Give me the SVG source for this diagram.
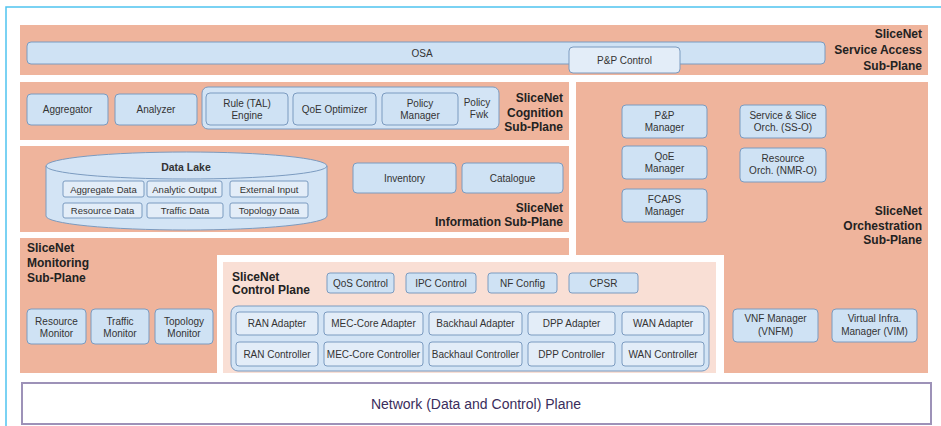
<svg xmlns="http://www.w3.org/2000/svg" width="941" height="426" viewBox="0 0 941 426">
<style>
.plane{fill:#EFB49C;stroke:none}
.box{fill:#CFE2F4;stroke:#7B9BC0;stroke-width:1}
.lbox{fill:#E3EDF8;stroke:#7B9BC0;stroke-width:1}
.grp{fill:#D3E4F5;stroke:#7B9BC0;stroke-width:1}
.t{font-family:"Liberation Sans",Arial,sans-serif;font-size:10px;fill:#333;text-anchor:middle}
.ts{font-family:"Liberation Sans",Arial,sans-serif;font-size:9.5px;fill:#333;text-anchor:middle}
.h{font-family:"Liberation Sans",Arial,sans-serif;font-size:12px;font-weight:bold;fill:#222}
.hr{text-anchor:end}
</style>
<rect x="0" y="0" width="941" height="426" fill="#FFFFFF"/>
<rect x="6" y="7" width="945" height="430" fill="none" stroke="#4FC3EF" stroke-width="1.5"/>

<g id="service-access">
<rect class="plane" x="20" y="25" width="908" height="50"/>
<rect class="box" x="27" y="42" width="798" height="22" rx="4"/>
<text class="t" x="422" y="56.5">OSA</text>
<g id="pp-control">
<rect class="lbox" x="569" y="47" width="111" height="26" rx="4"/>
<text class="t" x="624.5" y="63.5">P&amp;P Control</text>
</g>
<text class="h hr" x="922" y="38">SliceNet</text>
<text class="h hr" x="922" y="54">Service Access</text>
<text class="h hr" x="922" y="70">Sub-Plane</text>
</g>

<g id="cognition">
<rect class="plane" x="20" y="82" width="549" height="58"/>
<g id="aggregator"><rect class="box" x="27" y="94" width="81" height="31" rx="4"/><text class="t" x="67.5" y="113">Aggregator</text></g>
<g id="analyzer"><rect class="box" x="115" y="94" width="82" height="31" rx="4"/><text class="t" x="156" y="113">Analyzer</text></g>
<g id="policy-fwk">
<rect class="grp" x="202" y="87" width="297" height="42" rx="6"/>
<text class="t" x="477" y="106">Policy</text>
<text class="t" x="479" y="118">Fwk</text>
</g>
<g id="rule-engine"><rect class="box" x="206" y="93" width="82" height="32" rx="4"/><text class="t" x="247" y="106.5">Rule (TAL)</text><text class="t" x="247" y="118.5">Engine</text></g>
<g id="qoe-optimizer"><rect class="box" x="293" y="93" width="83" height="32" rx="4"/><text class="t" x="334.5" y="112.5">QoE Optimizer</text></g>
<g id="policy-manager"><rect class="box" x="382" y="93" width="76" height="32" rx="4"/><text class="t" x="420" y="106.5">Policy</text><text class="t" x="420" y="118.5">Manager</text></g>
<text class="h hr" x="563" y="102">SliceNet</text>
<text class="h hr" x="563" y="116.5">Cognition</text>
<text class="h hr" x="563" y="131">Sub-Plane</text>
</g>

<g id="orchestration">
<rect class="plane" x="576" y="82" width="352" height="291"/>
<g id="pp-manager"><rect class="box" x="622" y="105" width="85" height="33" rx="4"/><text class="t" x="664.5" y="119">P&amp;P</text><text class="t" x="664.5" y="131">Manager</text></g>
<g id="ss-o"><rect class="box" x="740" y="105" width="86" height="33" rx="4"/><text class="t" x="783" y="119">Service &amp; Slice</text><text class="t" x="783" y="131">Orch. (SS-O)</text></g>
<g id="qoe-manager"><rect class="box" x="622" y="146" width="85" height="33" rx="4"/><text class="t" x="664.5" y="159.5">QoE</text><text class="t" x="664.5" y="171.5">Manager</text></g>
<g id="nmr-o"><rect class="box" x="740" y="148" width="86" height="34" rx="4"/><text class="t" x="783" y="161.5">Resource</text><text class="t" x="783" y="174">Orch. (NMR-O)</text></g>
<g id="fcaps-manager"><rect class="box" x="622" y="189" width="85" height="33" rx="4"/><text class="t" x="664.5" y="202.5">FCAPS</text><text class="t" x="664.5" y="214.5">Manager</text></g>
<g id="vnfm"><rect class="box" x="733" y="309" width="85" height="33" rx="4"/><text class="t" x="775.5" y="322">VNF Manager</text><text class="t" x="775.5" y="335">(VNFM)</text></g>
<g id="vim"><rect class="box" x="832" y="309" width="85" height="33" rx="4"/><text class="t" x="874.5" y="322">Virtual Infra.</text><text class="t" x="874.5" y="335">Manager (VIM)</text></g>
<text class="h hr" x="922" y="215">SliceNet</text>
<text class="h hr" x="922" y="229.5">Orchestration</text>
<text class="h hr" x="922" y="244">Sub-Plane</text>
</g>

<g id="information">
<rect class="plane" x="20" y="146" width="549" height="86"/>
<g id="data-lake">
<path d="M46,166 L46,216 A140.5,14 0 0 0 327,216 L327,166 A140.5,14 0 0 0 46,166 Z" fill="#D3E4F5" stroke="#7B9BC0" stroke-width="1"/>
<path d="M46,166 A140.5,13 0 0 0 327,166" fill="none" stroke="#7B9BC0" stroke-width="1"/>
<text class="t" x="186" y="171" style="font-weight:bold;font-size:10.5px">Data Lake</text>
<rect class="lbox" x="63" y="181" width="81" height="16" rx="2"/><text class="ts" x="103.5" y="192.5">Aggregate Data</text>
<rect class="lbox" x="147" y="181" width="75" height="16" rx="2"/><text class="ts" x="184.5" y="192.5">Analytic Output</text>
<rect class="lbox" x="230" y="181" width="78" height="16" rx="2"/><text class="ts" x="269" y="192.5">External Input</text>
<rect class="lbox" x="63" y="203" width="79" height="15" rx="2"/><text class="ts" x="102.5" y="214">Resource Data</text>
<rect class="lbox" x="147" y="203" width="76" height="15" rx="2"/><text class="ts" x="185" y="214">Traffic Data</text>
<rect class="lbox" x="230" y="203" width="78" height="15" rx="2"/><text class="ts" x="269" y="214">Topology Data</text>
</g>
<g id="inventory"><rect class="box" x="353" y="163" width="103" height="30" rx="4"/><text class="t" x="404.5" y="181.5">Inventory</text></g>
<g id="catalogue"><rect class="box" x="462" y="163" width="101" height="30" rx="4"/><text class="t" x="512.5" y="181.5">Catalogue</text></g>
<text class="h hr" x="563" y="211.5">SliceNet</text>
<text class="h hr" x="563" y="226">Information Sub-Plane</text>
</g>

<g id="monitoring">
<rect class="plane" x="20" y="238" width="549" height="135"/>
<text class="h" x="27" y="251.5">SliceNet</text>
<text class="h" x="27" y="267">Monitoring</text>
<text class="h" x="27" y="282">Sub-Plane</text>
<g id="resource-monitor"><rect class="box" x="27" y="309" width="59" height="35" rx="4"/><text class="t" x="56.5" y="324.5">Resource</text><text class="t" x="56.5" y="336.5">Monitor</text></g>
<g id="traffic-monitor"><rect class="box" x="91" y="309" width="58" height="35" rx="4"/><text class="t" x="120" y="324.5">Traffic</text><text class="t" x="120" y="336.5">Monitor</text></g>
<g id="topology-monitor"><rect class="box" x="155" y="309" width="58" height="35" rx="4"/><text class="t" x="184" y="324.5">Topology</text><text class="t" x="184" y="336.5">Monitor</text></g>
</g>

<g id="control-plane">
<rect x="217" y="255" width="507" height="118" fill="#FFFFFF"/>
<rect x="223" y="262" width="493" height="111" fill="#F9DFD5"/>
<text class="h" x="232" y="281">SliceNet</text>
<text class="h" x="232" y="294">Control Plane</text>
<g id="qos-control"><rect class="box" x="327" y="273" width="67" height="20" rx="3"/><text class="t" x="360.5" y="286.5">QoS Control</text></g>
<g id="ipc-control"><rect class="box" x="406" y="273" width="70" height="20" rx="3"/><text class="t" x="441" y="286.5">IPC Control</text></g>
<g id="nf-config"><rect class="box" x="488" y="273" width="69" height="20" rx="3"/><text class="t" x="522.5" y="286.5">NF Config</text></g>
<g id="cpsr"><rect class="box" x="569" y="273" width="69" height="20" rx="3"/><text class="t" x="603.5" y="286.5">CPSR</text></g>
<rect class="grp" x="231" y="306" width="478" height="65" rx="7"/>
<g id="ran-adapter"><rect class="lbox" x="236" y="312" width="82" height="23" rx="3"/><text class="t" x="277" y="327">RAN Adapter</text></g>
<g id="mec-adapter"><rect class="lbox" x="324" y="312" width="99" height="23" rx="3"/><text class="t" x="373.5" y="327">MEC-Core Adapter</text></g>
<g id="backhaul-adapter"><rect class="lbox" x="429" y="312" width="93" height="23" rx="3"/><text class="t" x="475.5" y="327">Backhaul Adapter</text></g>
<g id="dpp-adapter"><rect class="lbox" x="528" y="312" width="87" height="23" rx="3"/><text class="t" x="571.5" y="327">DPP Adapter</text></g>
<g id="wan-adapter"><rect class="lbox" x="622" y="312" width="82" height="23" rx="3"/><text class="t" x="663" y="327">WAN Adapter</text></g>
<g id="ran-controller"><rect class="lbox" x="236" y="342" width="82" height="24" rx="3"/><text class="t" x="277" y="357.5">RAN Controller</text></g>
<g id="mec-controller"><rect class="lbox" x="324" y="342" width="99" height="24" rx="3"/><text class="t" x="373.5" y="357.5">MEC-Core Controller</text></g>
<g id="backhaul-controller"><rect class="lbox" x="429" y="342" width="93" height="24" rx="3"/><text class="t" x="475.5" y="357.5">Backhaul Controller</text></g>
<g id="dpp-controller"><rect class="lbox" x="528" y="342" width="87" height="24" rx="3"/><text class="t" x="571.5" y="357.5">DPP Controller</text></g>
<g id="wan-controller"><rect class="lbox" x="622" y="342" width="82" height="24" rx="3"/><text class="t" x="663" y="357.5">WAN Controller</text></g>
</g>

<g id="network-plane">
<rect x="22" y="383" width="909" height="41" fill="#FFFFFF" stroke="#9D92B8" stroke-width="2"/>
<text x="476" y="409" style="font-family:'Liberation Sans',Arial,sans-serif;font-size:14px;fill:#3A2D5C;text-anchor:middle">Network (Data and Control) Plane</text>
</g>

<g id="connectors"></g>
</svg>
